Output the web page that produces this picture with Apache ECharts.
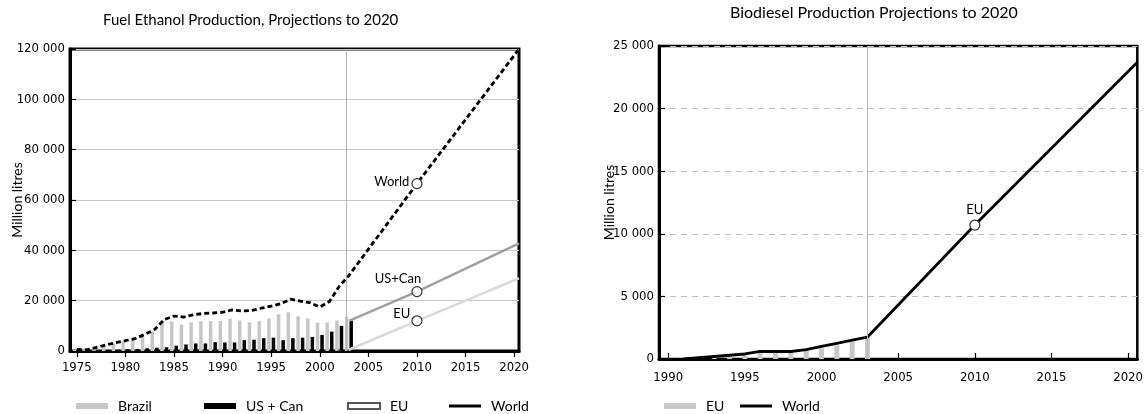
<!DOCTYPE html>
<html>
<head>
<meta charset="utf-8">
<script src="https://cdn.jsdelivr.net/npm/echarts@6/dist/echarts.min.js"></script>
<style>
  html, body { margin: 0; padding: 0; background: #fff; }
  #chart { width: 1146px; height: 414px; }
</style>
</head>
<body>
<div id="chart"></div>
<script>
// fuel ethanol, million litres
var ethYears = [1975,1976,1977,1978,1979,1980,1981,1982,1983,1984,1985,1986,1987,1988,1989,
                1990,1991,1992,1993,1994,1995,1996,1997,1998,1999,2000,2001,2002,2003];
var brazil   = [600,700,900,1700,3000,3800,4200,5600,7800,11600,11800,10500,11400,11900,11900,
                11900,12900,12100,11400,11900,12900,14600,15400,13800,12900,11300,11300,12100,13500];
var usCan    = [300,300,400,400,500,700,800,1100,1300,1500,2100,2600,3000,3000,3500,
                3400,3400,4300,4500,5100,5300,4300,5100,5300,5600,6400,7700,10000,12000];
var worldEth = [600,500,1400,2400,3300,4100,4900,6600,8500,12500,13900,13500,14400,14900,15100,
                15400,16300,15900,16100,17000,17800,18800,20600,19800,19200,17500,19700,25700,30000];
var euEthYears = [2002, 2003];
var euEth      = [500, 600];
// projections (last point = right edge of the plot)
var projYears     = [2003, 2010, 2020.5];
var worldEthProj  = [30000, 66500, 120000];
var usCanProj     = [12000, 23600, 42800];
var euEthProj     = [500, 12000, 28900];
var ethTicks = [1975,1980,1985,1990,1995,2000,2005,2010,2015,2020];

// biodiesel, million litres
var bioYears  = [1991,1992,1993,1994,1995,1996,1997,1998,1999,2000,2001,2002,2003];
var euBio     = [null,130,200,300,400,600,550,550,700,850,1100,1400,1700];
var worldBio  = [0,100,200,300,400,600,600,600,750,1000,1250,1500,1750];
var bioProjYears = [2010, 2020.6];
var worldBioProj = [10700, 23700];
var bioTicks = [1990,1995,2000,2005,2010,2015,2020];

var tickFont = "'Liberation Sans Narrow', 'DejaVu Sans Condensed', sans-serif";
var textFont = "Lato, 'Liberation Sans', sans-serif";

function pairs(xs, ys) {
  var out = [];
  for (var i = 0; i < xs.length; i++) {
    if (ys[i] != null) out.push([xs[i], ys[i]]);
  }
  return out;
}
function spaced(v) {
  return String(v).replace(/\B(?=(\d{3})+(?!\d))/g, ' ');
}
function ring(x, y, text, label) {
  return {
    value: [x, y], symbol: 'circle', symbolSize: 10,
    itemStyle: { color: '#fff', borderColor: '#333', borderWidth: 1.2 },
    label: Object.assign({ show: true, formatter: text, color: '#000',
                           fontFamily: textFont, fontSize: 13 }, label)
  };
}

var worldEthData = pairs(ethYears, worldEth);
for (var i = 1; i < projYears.length; i++) {
  if (projYears[i] === 2010) worldEthData.push(ring(2010, worldEthProj[i], 'World', { position: 'left', distance: 2, offset: [0, -2] }));
  else worldEthData.push([projYears[i], worldEthProj[i]]);
}
var usCanProjData = projYears.map(function (y, i) {
  return y === 2010 ? ring(y, usCanProj[i], 'US+Can', { position: 'top', distance: 3, offset: [-19, 2] }) : [y, usCanProj[i]];
});
var euEthProjData = projYears.map(function (y, i) {
  return y === 2010 ? ring(y, euEthProj[i], 'EU', { position: 'left', distance: 1, offset: [0, -7] }) : [y, euEthProj[i]];
});
var worldBioData = pairs(bioYears, worldBio);
bioProjYears.forEach(function (y, i) {
  worldBioData.push(y === 2010 ? ring(y, worldBioProj[i], 'EU', { position: 'top', distance: 3 }) : [y, worldBioProj[i]]);
});

var chart = echarts.init(document.getElementById('chart'), null, { renderer: 'canvas' });

function xAxisOf(grid, min, max, ticks, inside, show) {
  return {
    type: 'value', gridIndex: grid, min: min, max: max, show: show !== false,
    axisLine: { show: true, lineStyle: { color: '#000', width: 3 } },
    axisTick: { show: true, inside: inside, length: 6, customValues: ticks, lineStyle: { color: '#000', width: 1.2 } },
    axisLabel: { customValues: ticks, formatter: function (v) { return String(v); },
                 margin: inside ? 12 : 10, color: '#000', fontFamily: tickFont, fontSize: 13 },
    splitLine: { show: false }
  };
}
function yAxisOf(grid, max, interval, dashed, gap) {
  return {
    type: 'value', gridIndex: grid, min: 0, max: max, interval: interval,
    name: 'Million litres', nameLocation: 'middle', nameGap: gap, nameMoveOverlap: false,
    nameTextStyle: { color: '#000', fontFamily: textFont, fontSize: 14 },
    axisLine: { show: true, lineStyle: { color: '#000', width: 3 } },
    axisTick: { show: true, inside: true, length: 6, lineStyle: { color: '#000', width: 1.2 } },
    axisLabel: { formatter: spaced, margin: 5, color: '#000', fontFamily: tickFont, fontSize: 13 },
    splitLine: { show: true, lineStyle: { color: dashed ? '#bdbdbd' : '#c8c8c8', width: 1, type: dashed ? [6, 5] : 'solid' } }
  };
}
function legendAt(name, left, extra) {
  return Object.assign({
    data: [{ name: name, icon: 'rect' }],
    left: left, top: 394, itemWidth: 32, itemHeight: 6,
    selectedMode: false,
    textStyle: { color: '#000', fontFamily: textFont, fontSize: 14, padding: [0, 0, 0, 5] }
  }, extra || {});
}

chart.setOption({
  animation: false,
  backgroundColor: '#fff',
  title: [
    { text: 'Fuel Ethanol Production, Projections to 2020', left: 98, top: 8,
      textStyle: { color: '#000', fontFamily: textFont, fontSize: 15, fontWeight: 'normal' } },
    { text: 'Biodiesel Production Projections to 2020', left: 725, top: 0,
      textStyle: { color: '#000', fontFamily: textFont, fontSize: 16, fontWeight: 'normal' } }
  ],
  legend: [
    legendAt('Brazil', 71),
    legendAt('US + Can', 199),
    legendAt('EU ', 342),
    legendAt('World', 444, { itemHeight: 3, data: [{ name: 'World', icon: 'rect', itemStyle: { color: '#000' } }] }),
    legendAt('EU', 659),
    legendAt('World ', 735, { itemHeight: 3, data: [{ name: 'World ', icon: 'rect', itemStyle: { color: '#000' } }] })
  ],
  grid: [
    { left: 70, right: 627, top: 49, bottom: 63, show: true, borderColor: '#000', borderWidth: 3 },
    { left: 659, right: 8, top: 46, bottom: 55, show: true, borderColor: '#000', borderWidth: 2.5 }
  ],
  xAxis: [
    xAxisOf(0, 1974.3, 2020.5, ethTicks, false),
    xAxisOf(1, 1989.4, 2020.6, bioTicks, true),
    xAxisOf(0, 1974.3, 2020.5, ethTicks, false, false)
  ],
  yAxis: [
    yAxisOf(0, 120000, 20000, false, 46),
    yAxisOf(1, 25000, 5000, true, 43)
  ],
  series: [
    { name: 'Brazil', type: 'bar', xAxisIndex: 0, yAxisIndex: 0, data: pairs(ethYears, brazil),
      barWidth: 3.5, barGap: '30%', itemStyle: { color: '#c6c6c6' },
      markLine: { silent: true, symbol: 'none', label: { show: false },
                  lineStyle: { color: '#b4b4b4', width: 1, type: 'solid' }, data: [{ xAxis: 2003 }] } },
    { name: 'US + Can', type: 'bar', xAxisIndex: 0, yAxisIndex: 0, data: pairs(ethYears, usCan),
      barWidth: 3.5, barGap: '30%', itemStyle: { color: '#000' } },
    { name: 'EU ', type: 'bar', xAxisIndex: 2, yAxisIndex: 0, data: pairs(euEthYears, euEth),
      barWidth: 4, itemStyle: { color: '#fff', borderColor: '#555', borderWidth: 1 } },
    { name: 'US+Can projection', type: 'line', xAxisIndex: 0, yAxisIndex: 0, data: usCanProjData,
      symbol: 'none', lineStyle: { color: '#a0a0a0', width: 2.5 }, itemStyle: { color: '#a0a0a0' }, z: 3 },
    { name: 'EU projection', type: 'line', xAxisIndex: 0, yAxisIndex: 0, data: euEthProjData,
      symbol: 'none', lineStyle: { color: '#dadada', width: 2.5 }, itemStyle: { color: '#dadada' }, z: 3 },
    { name: 'World', type: 'line', xAxisIndex: 0, yAxisIndex: 0, data: worldEthData,
      symbol: 'none', lineStyle: { color: '#000', width: 2.8, type: [5, 3] }, itemStyle: { color: '#000' }, z: 4 },

    { name: 'EU', type: 'bar', xAxisIndex: 1, yAxisIndex: 1, data: pairs(bioYears, euBio),
      barWidth: 5, itemStyle: { color: '#c8c8c8' },
      markLine: { silent: true, symbol: 'none', label: { show: false },
                  lineStyle: { color: '#b4b4b4', width: 1, type: 'solid' }, data: [{ xAxis: 2003 }] } },
    { name: 'World ', type: 'line', xAxisIndex: 1, yAxisIndex: 1, data: worldBioData,
      symbol: 'none', lineStyle: { color: '#000', width: 2.8 }, itemStyle: { color: '#000' }, z: 4 }
  ]
});
</script>
</body>
</html>
